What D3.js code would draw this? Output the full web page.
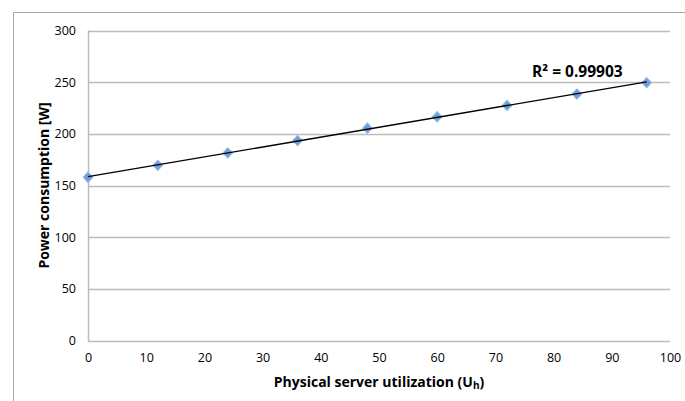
<!DOCTYPE html>
<html>
<head>
<meta charset="utf-8">
<script src="https://cdn.jsdelivr.net/npm/d3@7"></script>
<style>
  html, body { margin: 0; padding: 0; background: #fff; }
  svg { display: block; }
  text { font-family: "Open Sans", "Liberation Sans", sans-serif; fill: #000; }
</style>
</head>
<body>
<svg id="chart" width="685" height="401"></svg>
<script>
// Measured utilization levels and the power drawn at each
const utilization = [0, 12, 24, 36, 48, 60, 72, 84, 96];
const power = [158, 169.5, 181.5, 193.5, 205.5, 216.5, 227.5, 238.5, 249.5];
const xTicks = [0, 10, 20, 30, 40, 50, 60, 70, 80, 90, 100];
const yTicks = [0, 50, 100, 150, 200, 250, 300];
const rSquaredLabel = "R² = 0.99903";

const svg = d3.select("#chart");
const plot = { left: 88, right: 670, top: 30.5, bottom: 340.5 };

const x = d3.scaleLinear().domain([0, 100]).range([plot.left, plot.right]);
const y = d3.scaleLinear().domain([0, 300]).range([plot.bottom, plot.top]);

// Chart-area frame (left and top edges)
svg.append("path")
  .attr("d", "M13.5,401 V12.5 H685")
  .attr("fill", "none")
  .attr("stroke", "#a6a6a6")
  .attr("stroke-width", 1);

// Horizontal gridlines
svg.append("g")
  .selectAll("line")
  .data(yTicks)
  .join("line")
  .attr("x1", plot.left)
  .attr("x2", plot.right)
  .attr("y1", d => Math.round(y(d)) + 0.5)
  .attr("y2", d => Math.round(y(d)) + 0.5)
  .attr("stroke", "#bcbcbc")
  .attr("stroke-width", 1.5);

// Value axis line
svg.append("line")
  .attr("x1", plot.left + 0.5).attr("x2", plot.left + 0.5)
  .attr("y1", plot.top).attr("y2", plot.bottom + 1)
  .attr("stroke", "#bcbcbc").attr("stroke-width", 1.5);

// Axes (labels only)
const yAxis = svg.append("g")
  .attr("transform", `translate(${plot.left},0)`)
  .call(d3.axisLeft(y).tickValues(yTicks).tickSize(0).tickPadding(12));
const xAxis = svg.append("g")
  .attr("transform", `translate(0,${plot.bottom})`)
  .call(d3.axisBottom(x).tickValues(xTicks).tickSize(0).tickPadding(13));
[yAxis, xAxis].forEach(g => {
  g.select(".domain").remove();
  g.selectAll("text")
    .attr("font-family", "\"Open Sans\", sans-serif")
    .attr("font-size", 12.5)
    .attr("fill", "#111");
});

// Diamond markers
const marker = d3.symbol().type(d3.symbolDiamond2).size(58);
svg.append("g")
  .selectAll("path")
  .data(utilization.map((u, i) => [u, power[i]]))
  .join("path")
  .attr("d", marker)
  .attr("transform", d => `translate(${x(d[0])},${y(d[1])}) scale(1,1.08)`)
  .attr("fill", "#6f9fd8")
  .attr("stroke", "#8fb4e2")
  .attr("stroke-width", 1);

// Least-squares trend line over the measured range
const mx = d3.mean(utilization), my = d3.mean(power);
const slope = d3.sum(utilization, (u, i) => (u - mx) * (power[i] - my)) /
              d3.sum(utilization, u => (u - mx) * (u - mx));
const intercept = my - slope * mx;
const xExtent = d3.extent(utilization);
svg.append("line")
  .attr("x1", x(xExtent[0])).attr("y1", y(intercept + slope * xExtent[0]))
  .attr("x2", x(xExtent[1])).attr("y2", y(intercept + slope * xExtent[1]))
  .attr("stroke", "#000")
  .attr("stroke-width", 1.4);

// Fit label
svg.append("text")
  .attr("x", 532)
  .attr("y", 77)
  .attr("font-size", 15.5)
  .attr("font-weight", "bold")
  .text(rSquaredLabel);

// Axis titles
svg.append("text")
  .attr("transform", `translate(49,${(plot.top + plot.bottom) / 2}) rotate(-90)`)
  .attr("text-anchor", "middle")
  .attr("font-size", 14)
  .attr("font-weight", "bold")
  .text("Power consumption [W]");

const xTitle = svg.append("text")
  .attr("x", (plot.left + plot.right) / 2)
  .attr("y", 387)
  .attr("text-anchor", "middle")
  .attr("font-size", 14)
  .attr("font-weight", "bold");
xTitle.append("tspan").text("Physical server utilization (U");
xTitle.append("tspan").attr("font-size", 10).attr("dy", 2).text("h");
xTitle.append("tspan").attr("dy", -2).text(")");
</script>
</body>
</html>
